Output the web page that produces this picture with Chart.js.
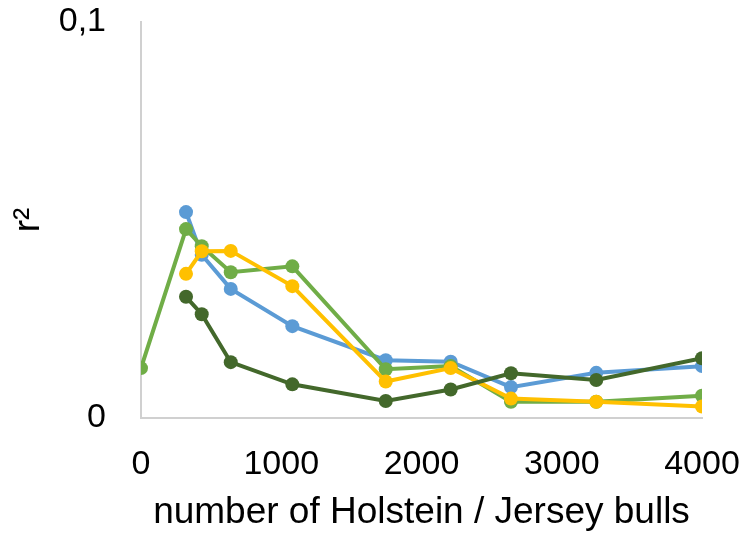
<!DOCTYPE html>
<html>
<head>
<meta charset="utf-8">
<script src="https://cdn.jsdelivr.net/npm/chart.js@4"></script>
<style>
  body { margin: 0; background: #fff; }
  #chart { display: block; }
</style>
</head>
<body>
<canvas id="chart" width="744" height="535"></canvas>
<script>
// number of bulls (x) and r² per series
const bulls = [0, 321, 433, 640, 1079, 1745, 2208, 2638, 3246, 4000];
const blueR2 = [null, 0.0520, 0.0412, 0.0326, 0.0232, 0.0146, 0.0142, 0.0078, 0.0114, 0.0131];
const lightGreenR2 = [0.0126, 0.0477, 0.0434, 0.0368, 0.0383, 0.0123, 0.0131, 0.0041, 0.0041, 0.0056];
const yellowR2 = [null, 0.0364, 0.0421, 0.0422, 0.0333, 0.0092, 0.0126, 0.0049, 0.0041, 0.0029];
const darkGreenR2 = [null, 0.0306, 0.0262, 0.0141, 0.0085, 0.0043, 0.0072, 0.0113, 0.0096, 0.0151];
const xTicks = [0, 1000, 2000, 3000, 4000];
const yTicks = [0, 0.1];

const toPoints = (ys) =>
  bulls.map((x, i) => ({ x: x, y: ys[i] })).filter((p) => p.y !== null);

const makeSet = (label, ys, color, order) => ({
  label: label,
  data: toPoints(ys),
  borderColor: color,
  backgroundColor: color,
  pointBackgroundColor: color,
  pointBorderColor: color,
  borderWidth: 4,
  pointRadius: 7,
  pointBorderWidth: 0,
  tension: 0,
  order: order,
});

const font = "'Liberation Sans', Arial, sans-serif";

new Chart(document.getElementById("chart"), {
  type: "line",
  data: {
    datasets: [
      makeSet("blue", blueR2, "#5B9BD5", 3),
      makeSet("light green", lightGreenR2, "#70AD47", 2),
      makeSet("yellow", yellowR2, "#FFC000", 1),
      makeSet("dark green", darkGreenR2, "#43682B", 0),
    ],
  },
  options: {
    responsive: false,
    animation: false,
    layout: { padding: { top: 22, right: 42, left: 0, bottom: 0 } },
    plugins: { legend: { display: false }, tooltip: { enabled: false } },
    scales: {
      x: {
        type: "linear",
        min: 0,
        max: 4000,
        afterBuildTicks: (axis) => {
          axis.ticks = xTicks.map((v) => ({ value: v }));
        },
        afterFit: (axis) => {
          // fixed band under the plot, as in the reference
          axis.height = 117;
          axis.paddingLeft = 0;
          axis.paddingRight = 0;
        },
        grid: { display: false, drawTicks: false },
        border: { display: true, color: "#D0D0D0", width: 2 },
        ticks: {
          color: "#000",
          font: { family: font, size: 34 },
          padding: 26,
          maxRotation: 0,
          autoSkip: false,
          callback: (v) => String(v),
        },
        title: {
          display: true,
          text: "number of Holstein / Jersey bulls",
          color: "#000",
          font: { family: font, size: 37 },
          padding: { top: 0, bottom: 0 },
        },
      },
      y: {
        min: 0,
        max: 0.1,
        afterBuildTicks: (axis) => {
          axis.ticks = yTicks.map((v) => ({ value: v }));
        },
        afterFit: (axis) => {
          axis.width = 141;
          axis.paddingTop = 0;
          axis.paddingBottom = 0;
        },
        grid: { display: false, drawTicks: false },
        border: { display: true, color: "#D0D0D0", width: 2 },
        ticks: {
          color: "#000",
          font: { family: font, size: 34 },
          padding: 35,
          callback: (v) => String(v).replace(".", ","),
        },
        title: {
          display: true,
          text: "r²",
          color: "#000",
          font: { family: font, size: 37 },
          padding: { top: 7, bottom: 0 },
        },
      },
    },
  },
});
</script>
</body>
</html>
